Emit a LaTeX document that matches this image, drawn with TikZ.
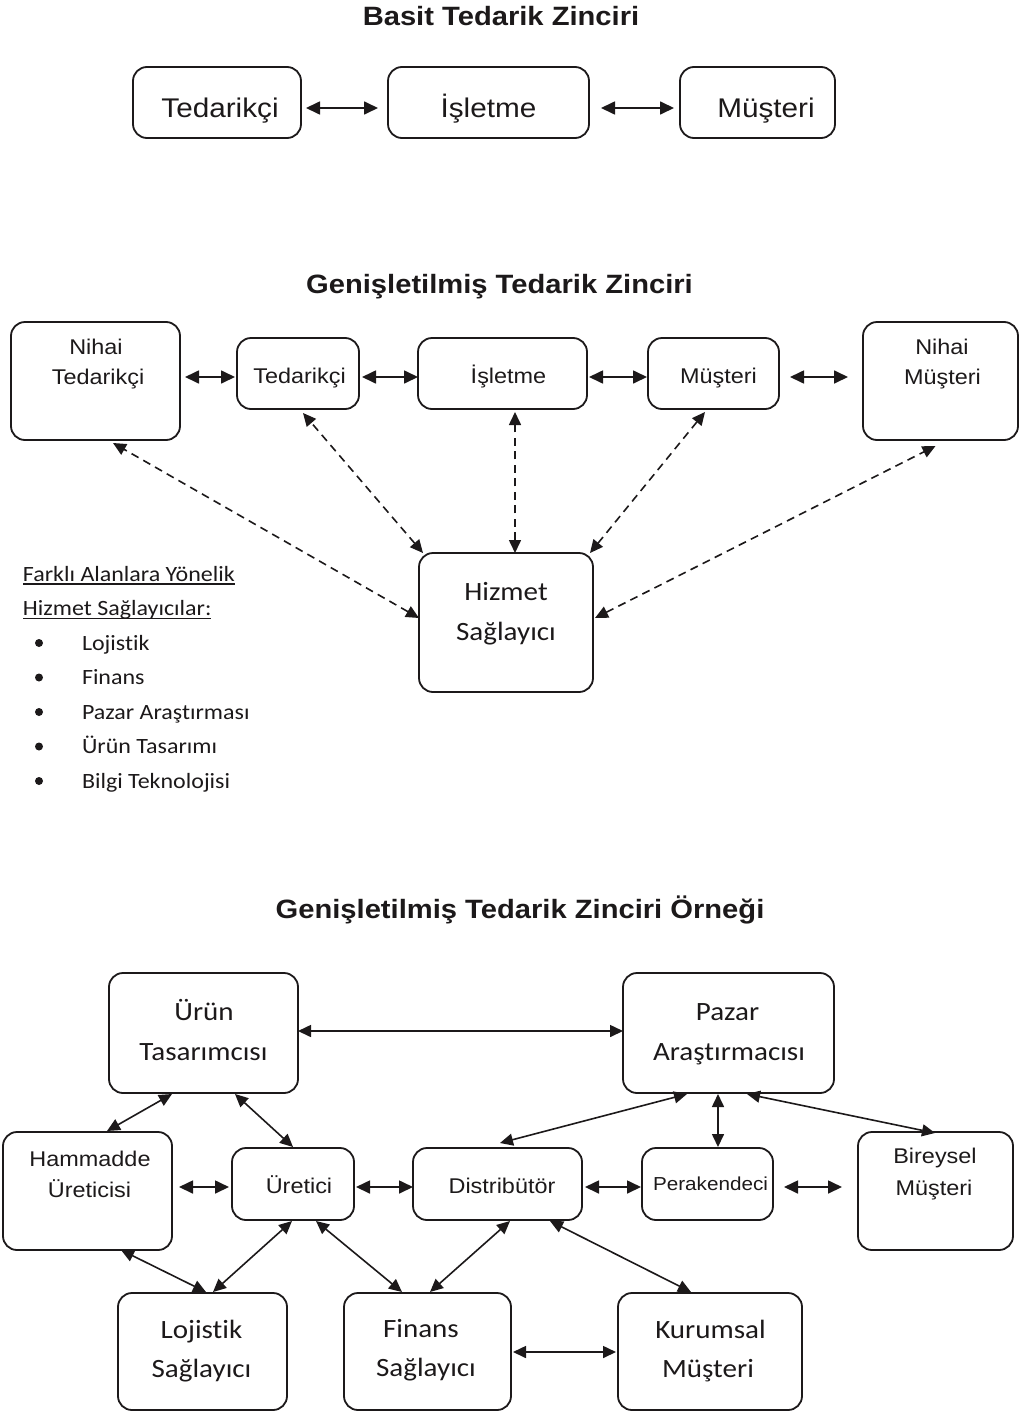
\documentclass[tikz,border=0pt]{standalone}
\usepackage{fontspec}
\setmainfont{Liberation Sans}[FakeStretch=1.1]
\newfontfamily\calfont{Carlito}[FakeStretch=1.1, Ligatures={NoCommon}]
\usetikzlibrary{arrows.meta,calc}
\definecolor{ink}{RGB}{28,25,26}
\newcommand\fsz[1]{\fontsize{#1}{#1}\selectfont}

\begin{document}
\begin{tikzpicture}[x=1pt,y=-1pt,
  every node/.style={inner sep=0pt, outer sep=0pt, text=ink},
  box/.style={draw=ink, line width=1.8pt, rounded corners=14pt},
  lbl/.style={anchor=base},
  ttl/.style={anchor=base, font=\fsz{26.5}\bfseries},
  big/.style={anchor=base, font=\fsz{27}},
  ari/.style={anchor=base, font=\fsz{21.3}},
  cal/.style={anchor=base, font=\calfont\fsz{26.4}},
  leg/.style={anchor=base west, font=\calfont\fsz{21.8}},
  tip/.tip={Triangle[length=14pt,width=13pt]},
  stip/.tip={Triangle[length=13pt,width=12pt]},
  link/.style={draw=ink, line width=1.7pt, tip-tip},
  slink/.style={draw=ink, line width=1.6pt, stip-stip},
  dlink/.style={draw=ink, line width=1.6pt, dash pattern=on 8pt off 5.5pt,
    {Triangle[length=13pt,width=12pt]}-{Triangle[length=13pt,width=12pt]}}
]
\useasboundingbox (0,0) rectangle (1020,1413);

% ---------- Basit Tedarik Zinciri ----------
\node[ttl] (title1) at (501,26) {Basit Tedarik Zinciri};
\node[box, minimum width=168pt, minimum height=71pt] (t1) at (217,102.5) {};
\node[box, minimum width=201pt, minimum height=71pt] (i1) at (488.5,102.5) {};
\node[box, minimum width=155pt, minimum height=71pt] (m1) at (757.5,102.5) {};
\node[big] (t1a) at (220,117) {Tedarikçi};
\node[big] (i1a) at (488.5,117) {İşletme};
\node[big] (m1a) at (766,117) {Müşteri};
\draw[link] ($(t1.east)+(5,5.5)$) -- ($(i1.west)+(-10,5.5)$);
\draw[link] ($(i1.east)+(12,5.5)$) -- ($(m1.west)+(-6,5.5)$);

% ---------- Genişletilmiş Tedarik Zinciri ----------
\node[ttl] (title2) at (499.5,293) {Genişletilmiş Tedarik Zinciri};
\node[box, minimum width=169pt, minimum height=118pt] (nt) at (95.5,381) {};
\node[box, minimum width=122pt, minimum height=71pt] (t2) at (298,373.5) {};
\node[box, minimum width=169pt, minimum height=71pt] (i2) at (502.5,373.5) {};
\node[box, minimum width=131pt, minimum height=71pt] (m2) at (713.5,373.5) {};
\node[box, minimum width=155pt, minimum height=118pt] (nm) at (940.5,381) {};
\node[box, minimum width=174pt, minimum height=139pt] (hz) at (506,622.5) {};

\node[ari] (nta) at (96,354) {Nihai};
\node[ari] (ntb) at (98,384) {Tedarikçi};
\node[ari] (t2a) at (299.5,383) {Tedarikçi};
\node[ari] (i2a) at (508.5,383) {İşletme};
\node[ari] (m2a) at (718.5,383) {Müşteri};
\node[ari] (nma) at (942,354) {Nihai};
\node[ari] (nmb) at (942.5,384) {Müşteri};
\node[cal] (hza) at (506,600) {Hizmet};
\node[cal] (hzb) at (506,640) {Sağlayıcı};

\draw[link] ($(nt.east)+(5,-4)$) -- ($(t2.west)+(-2,3.5)$);
\draw[link] ($(t2.east)+(3,3.5)$) -- ($(i2.west)+(0,3.5)$);
\draw[link] ($(i2.east)+(2,3.5)$) -- ($(m2.west)+(-1,3.5)$);
\draw[link] ($(m2.east)+(11,3.5)$) -- ($(nm.west)+(-15,-4)$);

\draw[dlink] ($(hz.west)+(0,-4.5)$) -- ($(nt.south)+(17.5,3)$);
\draw[dlink] ($(hz.north west)+(4,0)$) -- ($(t2.south)+(5,4)$);
\draw[dlink] ($(hz.north)+(9,0)$) -- ($(i2.south)+(12.5,3)$);
\draw[dlink] ($(hz.north east)+(-3,0)$) -- ($(m2.south)+(-8.5,3)$);
\draw[dlink] ($(hz.east)+(2,-4.5)$) -- ($(nm.south)+(-5,6)$);

% service provider list
\node[leg] (lg1) at (23,581) {Farklı Alanlara Yönelik};
\node[leg] (lg2) at (23,615.5) {Hizmet Sağlayıcılar:};
\draw[ink, line width=1.3pt] ($(lg1.base west)+(0,3)$) -- ($(lg1.base east)+(0,3)$);
\draw[ink, line width=1.3pt] ($(lg2.base west)+(0,3)$) -- ($(lg2.base east)+(0,3)$);
\foreach \y/\t [count=\k] in {650/Lojistik, 684.5/Finans, 719/Pazar Araştırması,
    753.5/Ürün Tasarımı, 788/Bilgi Teknolojisi}{
  \fill[ink] (39,\y-7) circle (4pt);
  \node[leg] (it\k) at (82,\y) {\t};
}

% ---------- Genişletilmiş Tedarik Zinciri Örneği ----------
\node[ttl] (title3) at (520,918) {Genişletilmiş Tedarik Zinciri Örneği};
\node[box, minimum width=189pt, minimum height=120pt] (ut) at (203.5,1033) {};
\node[box, minimum width=211pt, minimum height=120pt] (pz) at (728.5,1033) {};
\node[box, minimum width=169pt, minimum height=118pt] (hm) at (87.5,1191) {};
\node[box, minimum width=122pt, minimum height=72pt] (ur) at (293,1184) {};
\node[box, minimum width=169pt, minimum height=72pt] (ds) at (497.5,1184) {};
\node[box, minimum width=131pt, minimum height=72pt] (pk) at (707.5,1184) {};
\node[box, minimum width=155pt, minimum height=118pt] (bm) at (935.5,1191) {};
\node[box, minimum width=169pt, minimum height=117pt] (lj) at (202.5,1351.5) {};
\node[box, minimum width=167pt, minimum height=117pt] (fn) at (427.5,1351.5) {};
\node[box, minimum width=184pt, minimum height=117pt] (km) at (710,1351.5) {};

\node[cal] (uta) at (204,1020) {Ürün};
\node[cal] (utb) at (203.5,1060) {Tasarımcısı};
\node[cal] (pza) at (727.5,1020) {Pazar};
\node[cal] (pzb) at (729,1060) {Araştırmacısı};
\node[ari] (hma) at (90,1166) {Hammadde};
\node[ari] (hmb) at (89.5,1197) {Üreticisi};
\node[ari] (ura) at (299,1193) {Üretici};
\node[ari] (dsa) at (502,1193) {Distribütör};
\node[lbl, font=\fsz{18.8}] (pka) at (710.5,1190) {Perakendeci};
\node[ari] (bma) at (935,1163) {Bireysel};
\node[ari] (bmb) at (934,1195) {Müşteri};
\node[cal] (lja) at (201.5,1338) {Lojistik};
\node[cal] (ljb) at (201.5,1377) {Sağlayıcı};
\node[cal] (fna) at (421,1337) {Finans};
\node[cal] (fnb) at (426,1376) {Sağlayıcı};
\node[cal] (kma) at (710.5,1338) {Kurumsal};
\node[cal] (kmb) at (708,1377) {Müşteri};

\draw[slink] ($(ut.east)+(0,-2)$) -- ($(pz.west)+(0,-2)$);
\draw[slink] ($(ut.south)+(-31.5,1)$) -- ($(hm.north)+(19.5,-1)$);
\draw[slink] ($(ut.south)+(31.5,1)$) -- ($(ur.north)+(0,-1)$);
\draw[link] ($(hm.east)+(7,-4)$) -- ($(ur.west)+(-3,3)$);
\draw[link] ($(ur.east)+(2,3)$) -- ($(ds.west)+(0,3)$);
\draw[link] ($(ds.east)+(3,3)$) -- ($(pk.west)+(-1,3)$);
\draw[link] ($(pk.east)+(11,3)$) -- ($(bm.west)+(-16,-4)$);
\draw[slink] ($(pz.south)+(-41.5,1)$) -- ($(ds.north)+(2.5,-5)$);
\draw[slink] ($(pz.south)+(-10.5,1)$) -- ($(pk.north)+(10.5,-1)$);
\draw[slink] ($(pz.south)+(18.5,1)$) -- ($(bm.north)+(-0.5,1)$);
\draw[slink] ($(hm.south)+(33.5,0)$) -- ($(lj.north)+(3.5,-1)$);
\draw[slink] ($(ur.south)+(-1,1)$) -- ($(lj.north)+(10.5,-1)$);
\draw[slink] ($(ur.south)+(23,1)$) -- ($(fn.north)+(-25.5,-1)$);
\draw[slink] ($(ds.south)+(12.5,1)$) -- ($(fn.north)+(2.5,-1)$);
\draw[slink] ($(ds.south)+(52.5,1)$) -- ($(km.north)+(-19,-1)$);
\draw[slink] ($(fn.east)+(2,0.5)$) -- ($(km.west)+(-2,0.5)$);
\end{tikzpicture}
\end{document}
